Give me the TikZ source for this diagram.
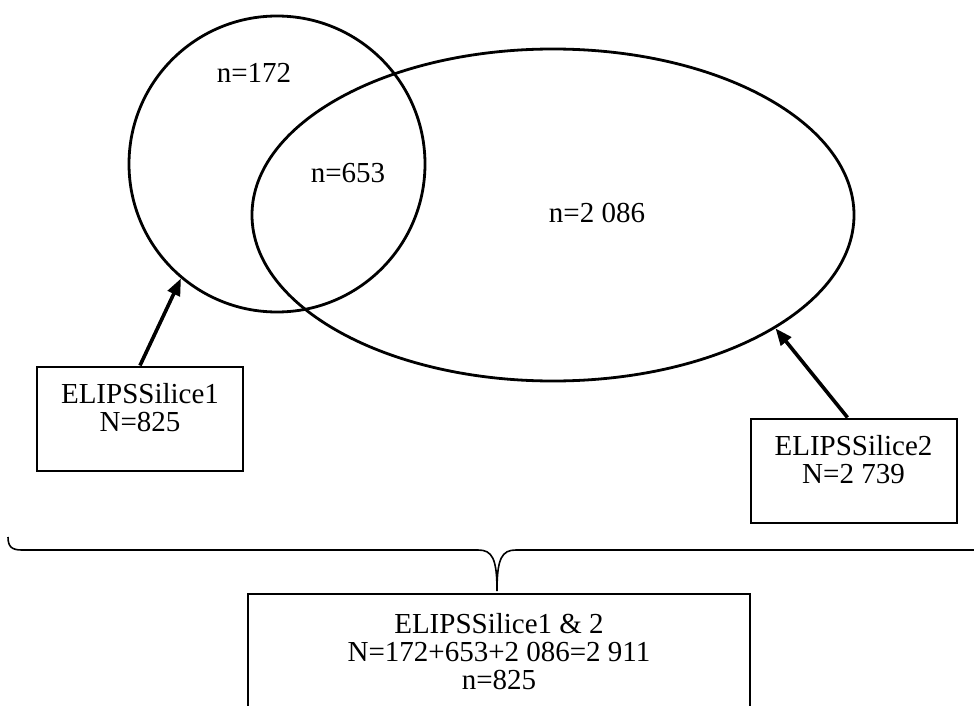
\documentclass[tikz,border=0pt]{standalone}
\usepackage{fontspec}
\setmainfont{Liberation Serif}
\usetikzlibrary{shapes.geometric,arrows.meta}
\begin{document}
\begin{tikzpicture}[x=1pt,y=-1pt,
  setline/.style={draw, line width=2.8pt, inner sep=0pt},
  labelbox/.style={draw, line width=2pt, minimum width=206pt, minimum height=104pt, inner sep=0pt},
  lbl/.style={font=\fontsize{29}{28}\selectfont, inner sep=0pt, align=center},
  arr/.style={line width=3.6pt, -{Triangle[length=17pt,width=13pt]}},
  brace/.style={line width=1.6pt}]
\useasboundingbox (0,0) rectangle (974,706);
\clip (0,0) rectangle (974,706);
% sets
\node[setline, circle, minimum size=296pt] (c1) at (277,164) {};
\node[setline, ellipse, minimum width=602pt, minimum height=332pt] (e2) at (553,215) {};
% counts
\node[lbl] (n172) at (254,73) {n=172};
\node[lbl] (n653) at (348,173) {n=653};
\node[lbl] (n2086) at (597,213) {n=2 086};
% boxes
\node[labelbox] (b1) at (140,418.5) {};
\node[lbl, anchor=north] (t1) at ([yshift=-18pt]b1.north) {ELIPSSilice1\\N=825};
\node[labelbox] (b2) at (853.5,470.5) {};
\node[lbl, anchor=north] (t2) at ([yshift=-18pt]b2.north) {ELIPSSilice2\\N=2 739};
\node[draw, line width=2pt, minimum width=502pt, minimum height=140pt, inner sep=0pt] (b3) at (499,664) {};
\node[lbl, anchor=north] (t3) at ([yshift=-20pt]b3.north) {ELIPSSilice1 \& 2\\N=172+653+2 086=2 911\\n=825};
% arrows
\draw[arr] (b1.north) -- (c1.230);
\draw[arr] ([xshift=-6pt]b2.north) -- (e2.-27);
% brace
\coordinate (bl) at (8,537);
\coordinate (tip) at (497,591);
\coordinate (br) at (990,550);
\draw[brace] (bl) .. controls (8,547) and (12,550) .. (22,550) -- (478,550)
  .. controls (492,550) and (497,558) .. (tip)
  .. controls (497,558) and (502,550) .. (516,550) -- (br);
\end{tikzpicture}
\end{document}
